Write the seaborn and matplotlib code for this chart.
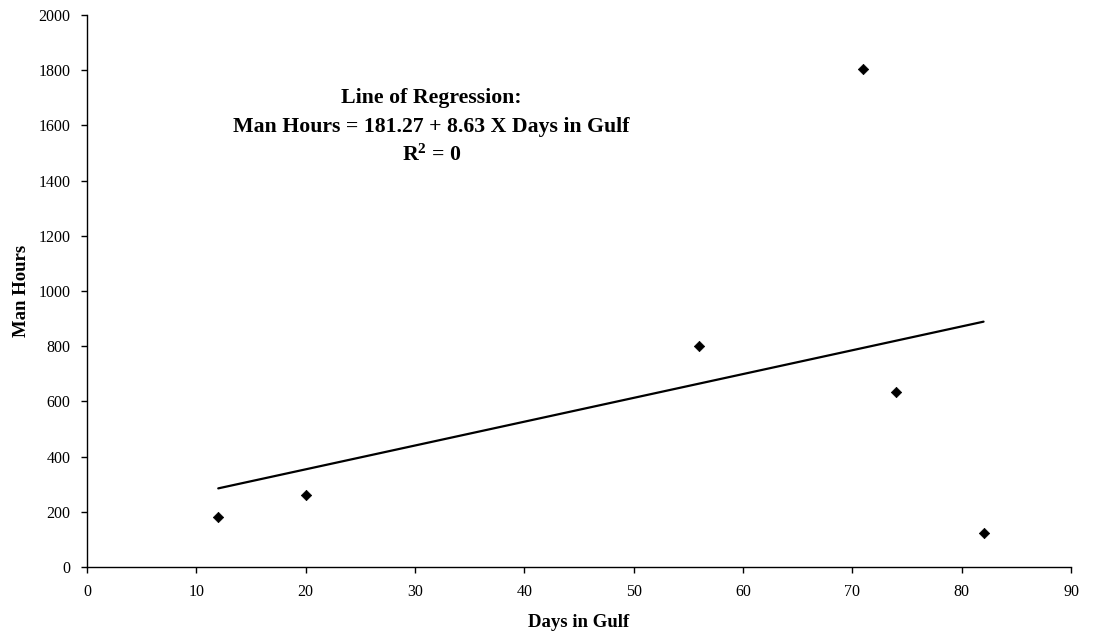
import numpy as np
import pandas as pd
import matplotlib
matplotlib.use("Agg")
import matplotlib.pyplot as plt
import seaborn as sns

# Observations: days spent in the Gulf vs. man hours
days_in_gulf = [12, 20, 56, 71, 74, 82]
man_hours = [180, 260, 800, 1805, 635, 122]

# Regression coefficients as reported
intercept = 181.27
slope = 8.63

x_ticks = [0, 10, 20, 30, 40, 50, 60, 70, 80, 90]
y_ticks = [0, 200, 400, 600, 800, 1000, 1200, 1400, 1600, 1800, 2000]

sns.set_theme(style="white")
plt.rcParams["font.family"] = ["Liberation Serif", "DejaVu Serif"]
plt.rcParams["mathtext.fontset"] = "custom"
plt.rcParams["mathtext.rm"] = "Liberation Serif"
plt.rcParams["mathtext.bf"] = "Liberation Serif:bold"

fig = plt.figure(figsize=(10.95, 6.39), dpi=100)
ax = fig.add_axes([0.0795, 0.1127, 0.8986, 0.8638])

df = pd.DataFrame({"Days in Gulf": days_in_gulf, "Man Hours": man_hours})
sns.scatterplot(data=df, x="Days in Gulf", y="Man Hours", ax=ax,
                marker="D", s=28, color="black", edgecolor="black", linewidth=0.5, zorder=3)

fit_x = np.array([min(days_in_gulf), max(days_in_gulf)])
fit = pd.DataFrame({"x": fit_x, "y": intercept + slope * fit_x})
sns.lineplot(data=fit, x="x", y="y", ax=ax, color="black", linewidth=1.6, zorder=2)

ax.set_xlim(0, 90)
ax.set_ylim(0, 2000)
ax.set_xticks(x_ticks)
ax.set_yticks(y_ticks)
ax.tick_params(axis="both", which="major", direction="out", length=4, width=1,
               color="black", labelsize=11.5, labelcolor="black", pad=8,
               bottom=True, left=True)
ax.tick_params(axis="x", pad=8)

for side in ["top", "right"]:
    ax.spines[side].set_visible(False)
for side in ["left", "bottom"]:
    ax.spines[side].set_color("black")
    ax.spines[side].set_linewidth(1.0)

ax.set_xlabel("Days in Gulf", fontsize=13.5, fontweight="bold", color="black", labelpad=10)
ax.set_ylabel("Man Hours", fontsize=13.5, fontweight="bold", color="black", labelpad=6)
ax.grid(False)

ann_x = 31.5
ax.text(ann_x, 1699, "Line of Regression:", ha="center", va="center",
        fontsize=15.7, fontweight="bold", color="black")
ax.text(ann_x, 1594, "Man Hours = 181.27 + 8.63 X Days in Gulf", ha="center", va="center",
        fontsize=15.7, fontweight="bold", color="black")
ax.text(ann_x, 1493, r"$\mathbf{R^2}$ = 0", ha="center", va="center",
        fontsize=15.7, fontweight="bold", color="black")

fig.savefig("out.png", dpi=100, facecolor="white")
